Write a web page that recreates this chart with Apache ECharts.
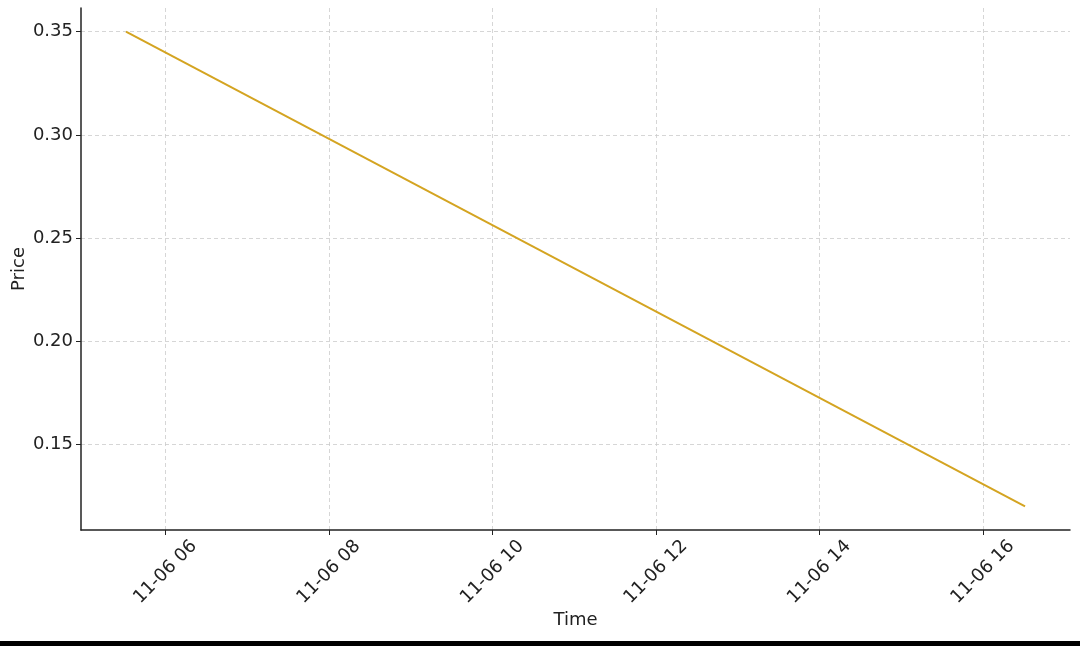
<!DOCTYPE html>
<html>
<head>
<meta charset="utf-8">
<script src="https://cdn.jsdelivr.net/npm/echarts@6/dist/echarts.min.js"></script>
<style>
  html, body { margin: 0; padding: 0; background: #fff; }
  #chart { width: 1080px; height: 641px; }
  #bar { width: 1080px; height: 5px; background: #000; }
</style>
</head>
<body>
<div id="chart"></div>
<div id="bar"></div>
<script>
  // data
  const times = ['11-06 05:31', '11-06 16:31'];
  const prices = [0.35, 0.12];
  const xTicks = ['11-06 06:00', '11-06 08:00', '11-06 10:00',
                  '11-06 12:00', '11-06 14:00', '11-06 16:00'];
  const yTicks = [0.15, 0.20, 0.25, 0.30, 0.35];

  // time of day in hours, used as a numeric axis value
  const hrs = s => {
    const [h, m] = s.split(' ')[1].split(':').map(Number);
    return h + m / 60;
  };
  const h0 = hrs(times[0]), h1 = hrs(times[times.length - 1]);
  const pad = (h1 - h0) * 0.05;
  const pMin = Math.min(...prices), pMax = Math.max(...prices);
  const pPad = (pMax - pMin) * 0.05;
  const xTickVals = xTicks.map(hrs);

  const font = 'DejaVu Sans';
  let myChart = echarts.init(document.getElementById('chart'));
  myChart.setOption({
    animation: false,
    grid: { left: 81, right: 10, top: 8, bottom: 111, containLabel: false, outerBoundsMode: 'none' },
    xAxis: {
      type: 'value',
      min: h0 - pad,
      max: h1 + pad,
      name: 'Time',
      nameLocation: 'middle',
      nameGap: 81,
      nameMoveOverlap: false,
      nameTextStyle: { fontFamily: font, fontSize: 18, color: '#222' },
      axisLine: { lineStyle: { color: '#222', width: 1.5 } },
      axisTick: { show: true, length: 5, customValues: xTickVals, lineStyle: { color: '#222' } },
      axisLabel: {
        customValues: xTickVals,
        rotate: 45,
        align: 'center',
        verticalAlign: 'middle',
        margin: 42,
        fontFamily: font,
        fontSize: 18,
        color: '#222',
        hideOverlap: false,
        formatter: v => '11-06 ' + String(Math.round(v)).padStart(2, '0')
      },
      splitLine: { show: true, lineStyle: { color: '#cccccc', type: [4, 3], width: 0.8 } }
    },
    yAxis: {
      type: 'value',
      min: pMin - pPad,
      max: pMax + pPad,
      name: 'Price',
      nameLocation: 'middle',
      nameGap: 53,
      nameMoveOverlap: false,
      nameTextStyle: { fontFamily: font, fontSize: 18, color: '#222' },
      axisLine: { show: true, lineStyle: { color: '#222', width: 1.5 } },
      axisTick: { show: true, length: 5, customValues: yTicks, lineStyle: { color: '#222' } },
      axisLabel: {
        customValues: yTicks,
        margin: 8,
        fontFamily: font,
        fontSize: 18,
        color: '#222',
        formatter: v => v.toFixed(2)
      },
      splitLine: { show: true, lineStyle: { color: '#cccccc', type: [4, 3], width: 0.8 } }
    },
    series: [{
      type: 'line',
      data: times.map((t, i) => [hrs(t), prices[i]]),
      symbol: 'none',
      lineStyle: { color: '#D4A421', width: 2 }
    }]
  });
</script>
</body>
</html>
